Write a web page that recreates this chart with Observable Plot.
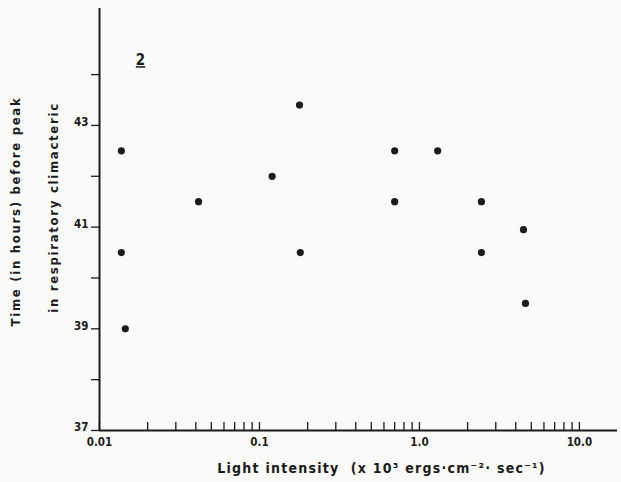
<!DOCTYPE html>
<html>
<head>
<meta charset="utf-8">
<script src="https://cdn.jsdelivr.net/npm/d3@7"></script>
<script src="https://cdn.jsdelivr.net/npm/@observablehq/plot@0.6"></script>
<style>
  html, body { margin: 0; padding: 0; background: #fafaf8; }
  #chart svg { font-family: "DejaVu Sans", sans-serif; font-stretch: condensed; font-weight: bold; }
  #chart svg text { font-stretch: condensed; }
  #chart g[aria-label="text"] text { letter-spacing: 1.7px; }
</style>
</head>
<body>
<div id="chart"></div>
<script>
// Light intensity (x 10^3 ergs·cm^-2·sec^-1)
const intensity = [0.0137, 0.0137, 0.0145, 0.0416, 0.12, 0.178, 0.18, 0.7, 0.7, 1.3, 2.44, 2.44, 4.47, 4.6];
// Time (in hours) before peak in respiratory climacteric
const hours = [42.5, 40.5, 39.0, 41.5, 42.0, 43.4, 40.5, 42.5, 41.5, 42.5, 41.5, 40.5, 40.95, 39.5];

const xMajorTicks = [0.01, 0.1, 1, 10];
const xMajorLabels = ["0.01", "0.1", "1.0", "10.0"];
const xMinorTicks = [0.02,0.03,0.04,0.05,0.06,0.07,0.08,0.09,0.2,0.3,0.4,0.5,0.6,0.7,0.8,0.9,2,3,4,5,6,7,8,9];
const yLabelTicks = [37, 39, 41, 43];
const yAllTicks = [37, 38, 39, 40, 41, 42, 43, 44];

const xTitle = "Light intensity  (x 10³ ergs·cm⁻²· sec⁻¹)";
const yTitle1 = "Time (in hours) before peak";
const yTitle2 = "in respiratory climacteric";
const panelLabel = "2";

const points = intensity.map((x, i) => ({x, y: hours[i]}));
const ink = "#1b1b1b";

const chart = Plot.plot({
  width: 621,
  height: 482,
  marginLeft: 99,
  marginRight: 4,
  marginTop: 8,
  marginBottom: 52,
  style: {background: "transparent", color: ink},
  x: {type: "log", domain: [0.01, 17.3]},
  y: {domain: [37, 45.3]},
  marks: [
    Plot.axisY({ticks: yAllTicks, tickSize: 8, tickFormat: () => "", label: null, stroke: ink, strokeWidth: 1.3}),
    Plot.axisY({ticks: yLabelTicks, tickSize: 0, tickPadding: 11, dy: -3, fontSize: 11.5, label: null, tickFormat: d => String(d)}),
    Plot.axisX({ticks: xMajorTicks.concat(xMinorTicks), tickSize: -8, tickFormat: () => "", label: null, stroke: ink, strokeWidth: 1.3}),
    Plot.axisX({ticks: xMajorTicks, tickSize: 0, tickPadding: 7, fontSize: 11.5, label: null, tickFormat: d => xMajorLabels[xMajorTicks.indexOf(d)]}),
    Plot.ruleY([37], {stroke: ink, strokeWidth: 2}),
    Plot.ruleX([0.01], {stroke: ink, strokeWidth: 2}),
    Plot.dot(points, {x: "x", y: "y", r: 3.6, fill: ink, stroke: "none"}),
    Plot.text([xTitle], {frameAnchor: "bottom", textAnchor: "middle", dx: 23, dy: 42, fontSize: 14, fill: ink}),
    Plot.text([yTitle1], {frameAnchor: "left", textAnchor: "middle", rotate: -90, dx: -84, dy: -8, fontSize: 13, fill: ink}),
    Plot.text([yTitle2], {frameAnchor: "left", textAnchor: "middle", rotate: -90, dx: -46, dy: -12, fontSize: 13, fill: ink}),
    Plot.text([panelLabel], {frameAnchor: "top-left", textAnchor: "middle", dx: 41, dy: 46, fontSize: 15, fill: ink})
  ]
});
d3.select(chart).selectAll('g[aria-label="text"] text')
  .each(function() {
    const t = this.textContent;
    if (t === panelLabel) d3.select(this).style("text-decoration", "underline").style("letter-spacing", "0px");
    if (t === xTitle) d3.select(this).style("letter-spacing", "1.25px");
  });
document.getElementById("chart").append(chart);
</script>
</body>
</html>
